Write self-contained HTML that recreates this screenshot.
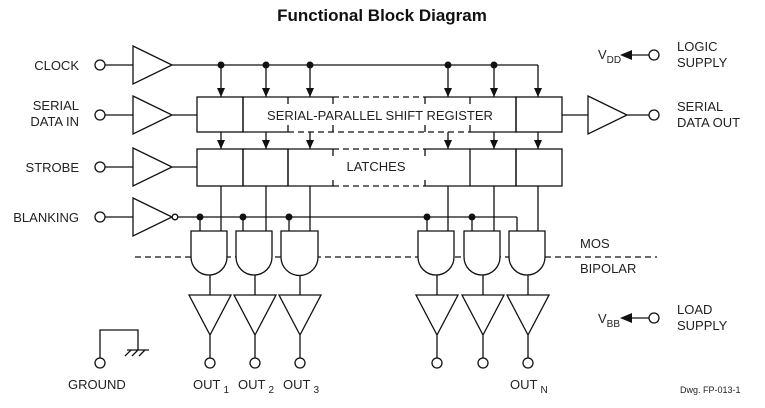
<!DOCTYPE html>
<html><head><meta charset="utf-8"><style>
html,body{margin:0;padding:0;background:#fff;}
svg{display:block;}
text{font-family:"Liberation Sans",Arial,sans-serif;fill:#222;}
</style></head><body>
<svg width="765" height="408" viewBox="0 0 765 408" xmlns="http://www.w3.org/2000/svg">
<defs>
<marker id="ar" markerWidth="9" markerHeight="8" refX="9" refY="4" orient="auto" markerUnits="userSpaceOnUse">
<path d="M0,0 L9,4 L0,8 z" fill="#111"/></marker>
</defs>
<text x="382" y="21" font-size="17" font-weight="bold" text-anchor="middle" style="fill:#111">Functional Block Diagram</text>
<g stroke="#111" stroke-width="1.3" fill="none">
<circle cx="100" cy="65" r="5" fill="#fff"/><line x1="105" y1="65" x2="133" y2="65"/>
<circle cx="100" cy="115" r="5" fill="#fff"/><line x1="105" y1="115" x2="133" y2="115"/>
<circle cx="100" cy="167" r="5" fill="#fff"/><line x1="105" y1="167" x2="133" y2="167"/>
<circle cx="100" cy="217" r="5" fill="#fff"/><line x1="105" y1="217" x2="133" y2="217"/>
<path d="M133,46 L172,65 L133,84 Z"/>
<path d="M133,96 L172,115 L133,134 Z"/>
<path d="M133,148 L172,167 L133,186 Z"/>
<path d="M133,198 L172,217 L133,236 Z"/>
<circle cx="175" cy="217" r="2.8" fill="#fff"/>
<line x1="172" y1="115" x2="197" y2="115"/>
<line x1="172" y1="167" x2="197" y2="167"/>
<line x1="172" y1="65" x2="538" y2="65"/>
<line x1="221" y1="65" x2="221" y2="97" marker-end="url(#ar)"/>
<line x1="266" y1="65" x2="266" y2="97" marker-end="url(#ar)"/>
<line x1="310" y1="65" x2="310" y2="97" marker-end="url(#ar)"/>
<line x1="448" y1="65" x2="448" y2="97" marker-end="url(#ar)"/>
<line x1="494" y1="65" x2="494" y2="97" marker-end="url(#ar)"/>
<line x1="538" y1="65" x2="538" y2="97" marker-end="url(#ar)"/>
<rect x="197" y="97" width="46" height="35"/>
<rect x="516" y="97" width="46" height="35"/>
<path d="M333,97 L243,97 L243,132 L288,132"/>
<path d="M425,97 L516,97 L516,132 L470,132"/>
<path d="M288,97 L288,104 M333,97 L333,104 M425,97 L425,104 M470,97 L470,104"/>
<path d="M288,132 L288,125 M425,132 L425,125 M470,132 L470,125 M333,132 L333,125"/>
<path d="M333,97 L425,97 M288,132 L470,132" stroke-dasharray="6,4"/>
<line x1="221" y1="132" x2="221" y2="149" marker-end="url(#ar)"/>
<line x1="266" y1="132" x2="266" y2="149" marker-end="url(#ar)"/>
<line x1="310" y1="132" x2="310" y2="149" marker-end="url(#ar)"/>
<line x1="448" y1="132" x2="448" y2="149" marker-end="url(#ar)"/>
<line x1="494" y1="132" x2="494" y2="149" marker-end="url(#ar)"/>
<line x1="538" y1="132" x2="538" y2="149" marker-end="url(#ar)"/>
<rect x="197" y="149" width="46" height="37"/>
<rect x="243" y="149" width="45" height="37"/>
<rect x="470" y="149" width="46" height="37"/>
<rect x="516" y="149" width="46" height="37"/>
<path d="M333,149 L288,149 L288,186 L333,186"/>
<path d="M425,149 L470,149 M425,186 L470,186"/>
<path d="M333,186 L333,180 M425,149 L425,156 M425,186 L425,180 M333,149 L333,156"/>
<path d="M333,149 L425,149 M333,186 L425,186" stroke-dasharray="6,4"/>
<line x1="562" y1="115" x2="588" y2="115"/>
<path d="M588,96 L627,115 L588,134 Z"/>
<line x1="627" y1="115" x2="649" y2="115"/>
<circle cx="654" cy="115" r="5" fill="#fff"/>
<line x1="632" y1="55" x2="649" y2="55"/>
<circle cx="654" cy="55" r="5" fill="#fff"/>
<line x1="632" y1="318" x2="649" y2="318"/>
<circle cx="654" cy="318" r="5" fill="#fff"/>
<line x1="178" y1="217" x2="517" y2="217"/>
<line x1="517" y1="217" x2="517" y2="231"/>
<line x1="200" y1="217" x2="200" y2="231"/>
<line x1="243" y1="217" x2="243" y2="231"/>
<line x1="289" y1="217" x2="289" y2="231"/>
<line x1="427" y1="217" x2="427" y2="231"/>
<line x1="472" y1="217" x2="472" y2="231"/>
<line x1="221" y1="186" x2="221" y2="231"/>
<line x1="266" y1="186" x2="266" y2="231"/>
<line x1="310" y1="186" x2="310" y2="231"/>
<line x1="448" y1="186" x2="448" y2="231"/>
<line x1="494" y1="186" x2="494" y2="231"/>
<line x1="538" y1="186" x2="538" y2="231"/>
<line x1="135" y1="257" x2="657" y2="257" stroke-dasharray="6,4"/>
</g>
<g fill="#111">
<circle cx="221" cy="65" r="3.5"/><circle cx="266" cy="65" r="3.5"/><circle cx="310" cy="65" r="3.5"/>
<circle cx="448" cy="65" r="3.5"/><circle cx="494" cy="65" r="3.5"/>
<circle cx="200" cy="217" r="3.5"/><circle cx="243" cy="217" r="3.5"/><circle cx="289" cy="217" r="3.5"/>
<circle cx="427" cy="217" r="3.5"/><circle cx="472" cy="217" r="3.5"/>
<path d="M620,55 L632,50 L632,60 Z"/>
<path d="M620,318 L632,313 L632,323 Z"/>
</g>
<g stroke="#111" stroke-width="1.3" fill="#fff">
<path d="M191,231 L227,231 L227,257 A18,18 0 0 1 191,257 Z"/>
<path d="M236,231 L272,231 L272,257 A18,18 0 0 1 236,257 Z"/>
<path d="M281,231 L318,231 L318,257 A18.5,18.5 0 0 1 281,257 Z"/>
<path d="M418,231 L454,231 L454,257 A18,18 0 0 1 418,257 Z"/>
<path d="M464,231 L500,231 L500,257 A18,18 0 0 1 464,257 Z"/>
<path d="M509,231 L545,231 L545,257 A18,18 0 0 1 509,257 Z"/>
</g>
<g stroke="#111" stroke-width="1.3" fill="none">
<path d="M210,275 V295 M189,295 L231,295 L210,335 Z M210,335 V358"/>
<path d="M255,275 V295 M234,295 L276,295 L255,335 Z M255,335 V358"/>
<path d="M300,275 V295 M279,295 L321,295 L300,335 Z M300,335 V358"/>
<path d="M437,275 V295 M416,295 L458,295 L437,335 Z M437,335 V358"/>
<path d="M483,275 V295 M462,295 L504,295 L483,335 Z M483,335 V358"/>
<path d="M528,275 V295 M507,295 L549,295 L528,335 Z M528,335 V358"/>
<circle cx="210" cy="363" r="5"/><circle cx="255" cy="363" r="5"/><circle cx="300" cy="363" r="5"/>
<circle cx="437" cy="363" r="5"/><circle cx="483" cy="363" r="5"/><circle cx="528" cy="363" r="5"/>
<path d="M100,358 V330 H138 V350"/>
<circle cx="100" cy="363" r="5"/>
<path d="M127,350 H149 M131,350 L125,356 M138,350 L132,356 M145,350 L139,356"/>
</g>
<g font-size="13">
<text x="79" y="70" text-anchor="end">CLOCK</text>
<text x="79" y="110" text-anchor="end">SERIAL</text>
<text x="79" y="126" text-anchor="end">DATA IN</text>
<text x="79" y="172" text-anchor="end">STROBE</text>
<text x="79" y="222" text-anchor="end">BLANKING</text>
<text x="380" y="120" text-anchor="middle">SERIAL-PARALLEL SHIFT REGISTER</text>
<text x="376" y="171" text-anchor="middle">LATCHES</text>
<text x="677" y="51">LOGIC</text><text x="677" y="67">SUPPLY</text>
<text x="677" y="111">SERIAL</text><text x="677" y="127">DATA OUT</text>
<text x="677" y="314">LOAD</text><text x="677" y="330">SUPPLY</text>
<text x="580" y="248">MOS</text>
<text x="580" y="273">BIPOLAR</text>
<text x="598" y="59">V<tspan font-size="10" dy="4">DD</tspan></text>
<text x="598" y="323">V<tspan font-size="10" dy="4">BB</tspan></text>
<text x="68" y="389">GROUND</text>
<text x="193" y="389">OUT<tspan font-size="10" dx="3" dy="4">1</tspan></text>
<text x="238" y="389">OUT<tspan font-size="10" dx="3" dy="4">2</tspan></text>
<text x="283" y="389">OUT<tspan font-size="10" dx="3" dy="4">3</tspan></text>
<text x="510" y="389">OUT<tspan font-size="10" dx="3" dy="4">N</tspan></text>
<text x="680" y="393" font-size="9">Dwg. FP-013-1</text>
</g>
</svg>
</body></html>
